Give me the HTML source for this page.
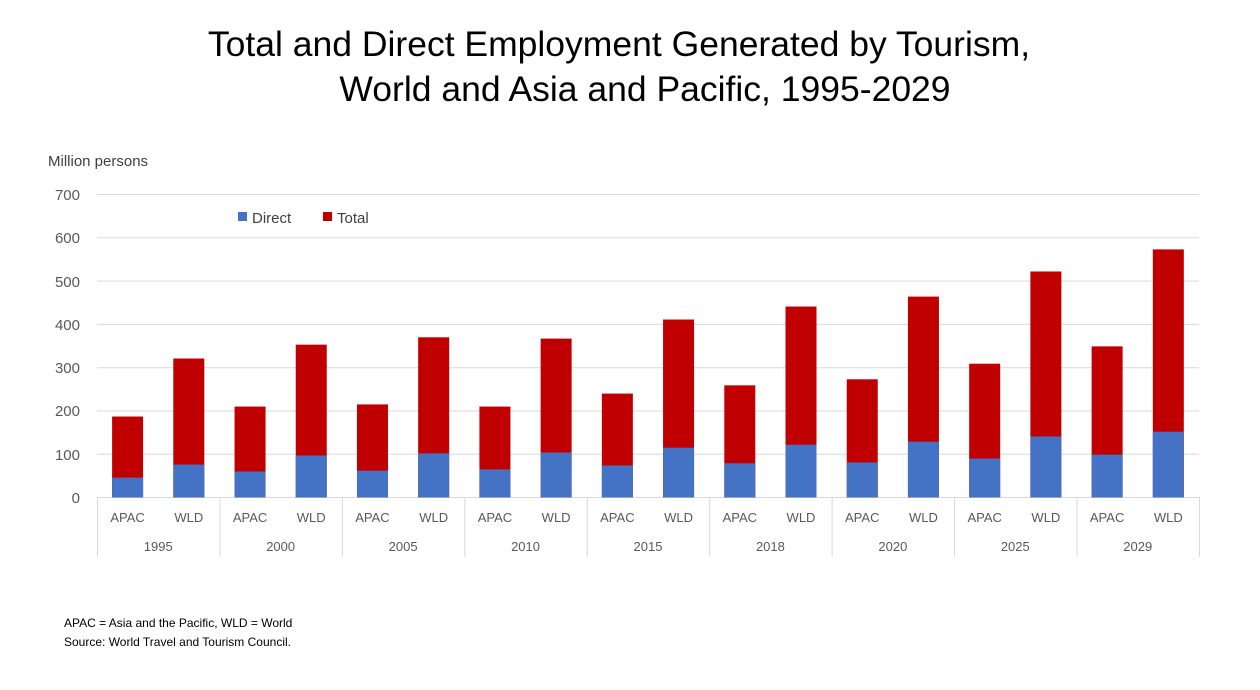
<!DOCTYPE html>
<html><head><meta charset="utf-8"><style>
body{margin:0;background:#fff;}
svg{display:block;font-family:"Liberation Sans",sans-serif;}
</style></head><body>
<svg width="1260" height="690" viewBox="0 0 1260 690" xmlns="http://www.w3.org/2000/svg">
<text x="619" y="56" font-size="35.5" text-anchor="middle" fill="#000">Total and Direct Employment Generated by Tourism,</text>
<text x="645" y="101" font-size="35.5" text-anchor="middle" fill="#000">World and Asia and Pacific, 1995-2029</text>
<text x="48" y="166" font-size="15" fill="#404040">Million persons</text>
<g stroke="#d9d9d9" stroke-width="1">
<line x1="97" y1="194.5" x2="1199" y2="194.5"/>
<line x1="97" y1="237.8" x2="1199" y2="237.8"/>
<line x1="97" y1="281.1" x2="1199" y2="281.1"/>
<line x1="97" y1="324.4" x2="1199" y2="324.4"/>
<line x1="97" y1="367.7" x2="1199" y2="367.7"/>
<line x1="97" y1="411" x2="1199" y2="411"/>
<line x1="97" y1="454.3" x2="1199" y2="454.3"/>
<line x1="97" y1="497.5" x2="1199" y2="497.5"/>
</g>
<g font-size="15" fill="#595959" text-anchor="end">
<text x="80" y="200">700</text><text x="80" y="243">600</text><text x="80" y="287">500</text>
<text x="80" y="330">400</text><text x="80" y="373">300</text><text x="80" y="416">200</text>
<text x="80" y="460">100</text><text x="80" y="503">0</text>
</g>
<rect x="238" y="212" width="9" height="9" fill="#4472c4"/>
<text x="252" y="223" font-size="15" fill="#404040">Direct</text>
<rect x="323" y="212" width="9" height="9" fill="#c00000"/>
<text x="337" y="223" font-size="15" fill="#404040">Total</text>
<g id="bars"></g>
<g id="axis" stroke="#d9d9d9" stroke-width="1"></g>
<g id="labels" font-size="13" fill="#595959" text-anchor="middle"></g>
<text x="64" y="627" font-size="12" fill="#000">APAC = Asia and the  Pacific, WLD = World</text>
<text x="64" y="646" font-size="12" fill="#000">Source: World Travel and Tourism Council.</text>
<script>
var d=[["1995",187,46,321,76],["2000",210,60,353,97],["2005",215,62,370,102],["2010",210,65,367,104],["2015",240,74,411,115],["2018",259,79,441,122],["2020",273,81,464,129],["2025",309,90,522,141],["2029",349,99,573,152]];
var ns="http://www.w3.org/2000/svg",b=document.getElementById("bars"),a=document.getElementById("axis"),l=document.getElementById("labels");
function el(p,t,o,tx){var e=document.createElementNS(ns,t);for(var k in o)e.setAttribute(k,o[k]);if(tx)e.textContent=tx;p.appendChild(e);}
var s=0.433,y0=497.5,gw=122.44;
for(var i=0;i<9;i++){var g=97+gw*i;
[[d[i][1],d[i][2],g+30.6,"APAC"],[d[i][3],d[i][4],g+91.8,"WLD"]].forEach(function(v){
el(b,"rect",{x:v[2]-15.5,y:y0-v[0]*s,width:31,height:v[0]*s,fill:"#c00000"});
el(b,"rect",{x:v[2]-15.5,y:y0-v[1]*s,width:31,height:v[1]*s,fill:"#4472c4"});
el(l,"text",{x:v[2],y:522},v[3]);});
el(l,"text",{x:g+gw/2,y:551},d[i][0]);
el(a,"line",{x1:g+0.5,y1:497,x2:g+0.5,y2:557});}
el(a,"line",{x1:1199.5,y1:497,x2:1199.5,y2:557});
</script>
</svg>
</body></html>
